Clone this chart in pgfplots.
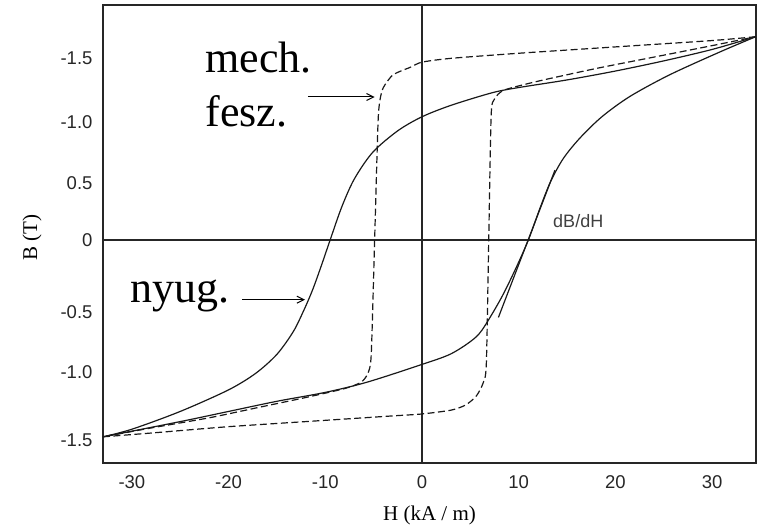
\documentclass[border=0pt]{standalone}
\usepackage{fontspec}
\setmainfont{Liberation Serif}
\newfontfamily\tickfont{Liberation Sans}
\usepackage{pgfplots}
\pgfplotsset{compat=1.18}
\usetikzlibrary{arrows.meta}
\begin{document}
\begin{tikzpicture}
\begin{axis}[
  scale only axis, width=653pt, height=458pt,
  xmin=-32.99, xmax=34.54, ymin=-1.756, ymax=1.850,
  axis line style={line width=1.5pt, black!85},
  xtick={-30,-20,-10,0,10,20,30},
  xticklabels={-30,-20,-10,0,10,20,30},
  ytick={-1.575,-1.04,-0.567,0,0.45,0.93,1.433},
  yticklabels={-1.5,-1.0,-0.5,0,0.5,-1.0,-1.5},
  major tick length=0pt, tick style={draw=none},
  ticklabel style={font=\tickfont\fontsize{18.5}{21}\selectfont, text=black!85},
  xticklabel style={yshift=-9pt},
  yticklabel style={xshift=-7pt},
  xlabel={H (kA / m)}, ylabel={B (T)},
  every axis x label/.style={at={(axis description cs:0.5,-0.1135)}, anchor=center, font=\fontsize{21}{24}\selectfont},
  every axis y label/.style={at={(axis description cs:-0.1087,0.493)}, rotate=90, anchor=center, font=\fontsize{21}{24}\selectfont},
  clip=false,
]
% zero lines
\addplot[line width=1.4pt, black!85] coordinates {(-32.99,0) (34.54,0)};
\addplot[line width=1.4pt, black!85] coordinates {(0,-1.756) (0,1.850)};
% solid loop, descending (upper) branch
\addplot[line width=1.2pt, black!90, smooth, tension=0.5] coordinates {
(34.5,1.6) (30,1.5) (25,1.41) (20,1.33) (15,1.26) (10,1.2) (7.3,1.16) (3,1.06) (0,0.97)
(-2.5,0.86) (-5.1,0.69) (-7,0.48) (-8.3,0.26) (-9.5,0) (-10.4,-0.2) (-11.3,-0.39)
(-12.2,-0.55) (-13.3,-0.72) (-15,-0.9) (-17.2,-1.05) (-20,-1.18) (-25,-1.35) (-30,-1.49) (-33,-1.55)};
% solid loop, ascending (lower) branch
\addplot[line width=1.2pt, black!90, smooth, tension=0.5] coordinates {
(-33,-1.55) (-25,-1.43) (-20,-1.35) (-15,-1.27) (-10,-1.2) (-5.7,-1.12) (0,-0.98) (2.9,-0.9)
(5,-0.8) (6.2,-0.71) (8.1,-0.47) (9.6,-0.24) (11,0) (12.2,0.25) (13.3,0.46) (14.6,0.64)
(16.3,0.8) (18.6,0.97) (21.5,1.13) (25.6,1.3) (30.8,1.48) (34.5,1.6)};
% tangent dB/dH
\addplot[line width=1.2pt, black!90] coordinates {(7.9,-0.61) (13.75,0.55)};
% dashed loop, descending branch
\addplot[line width=1.2pt, black!90, dash pattern=on 7pt off 3.5pt, smooth, tension=0.4] coordinates {
(34.5,1.6) (30,1.57) (20,1.52) (10,1.47) (3,1.43) (0,1.40) (-1.2,1.36) (-3,1.3) (-4,1.2)
(-4.35,1.1) (-4.55,0.92) (-4.9,0) (-5.25,-0.9) (-5.6,-1.05) (-6.3,-1.12) (-8,-1.17)
(-12,-1.24) (-17,-1.32) (-22,-1.4) (-28,-1.48) (-33,-1.55)};
% dashed loop, ascending branch
\addplot[line width=1.2pt, black!90, dash pattern=on 7pt off 3.5pt, smooth, tension=0.4] coordinates {
(-33,-1.55) (-28,-1.52) (-20,-1.47) (-10,-1.42) (-3,-1.385) (0,-1.37) (3,-1.34) (4.5,-1.3)
(5.6,-1.23) (6.3,-1.13) (6.65,-0.98) (6.9,0) (7.15,0.98) (7.5,1.11) (8.5,1.18) (12,1.25)
(18,1.35) (24,1.44) (30,1.53) (34.5,1.6)};
% annotations
\node[anchor=base west, inner sep=0pt, font=\fontsize{44}{50}\selectfont] at (axis cs:-22.4,1.32) {mech.};
\node[anchor=base west, inner sep=0pt, font=\fontsize{44}{50}\selectfont] at (axis cs:-22.4,0.89) {fesz.};
\node[anchor=base west, inner sep=0pt, font=\fontsize{44}{50}\selectfont] at (axis cs:-30.2,-0.496) {nyug.};
\draw[line width=1pt, -{Straight Barb[length=7pt,width=7pt]}] (axis cs:-11.8,1.126) -- (axis cs:-4.9,1.126);
\draw[line width=1pt, -{Straight Barb[length=7pt,width=7pt]}] (axis cs:-18.6,-0.47) -- (axis cs:-12.1,-0.47);
\node[anchor=base west, inner sep=0pt, text=black!75, font=\tickfont\fontsize{18}{20}\selectfont] at (axis cs:13.55,0.10) {dB/dH};
\end{axis}
\path (-103pt,-64pt) rectangle (656pt,463pt);
\end{tikzpicture}
\end{document}
